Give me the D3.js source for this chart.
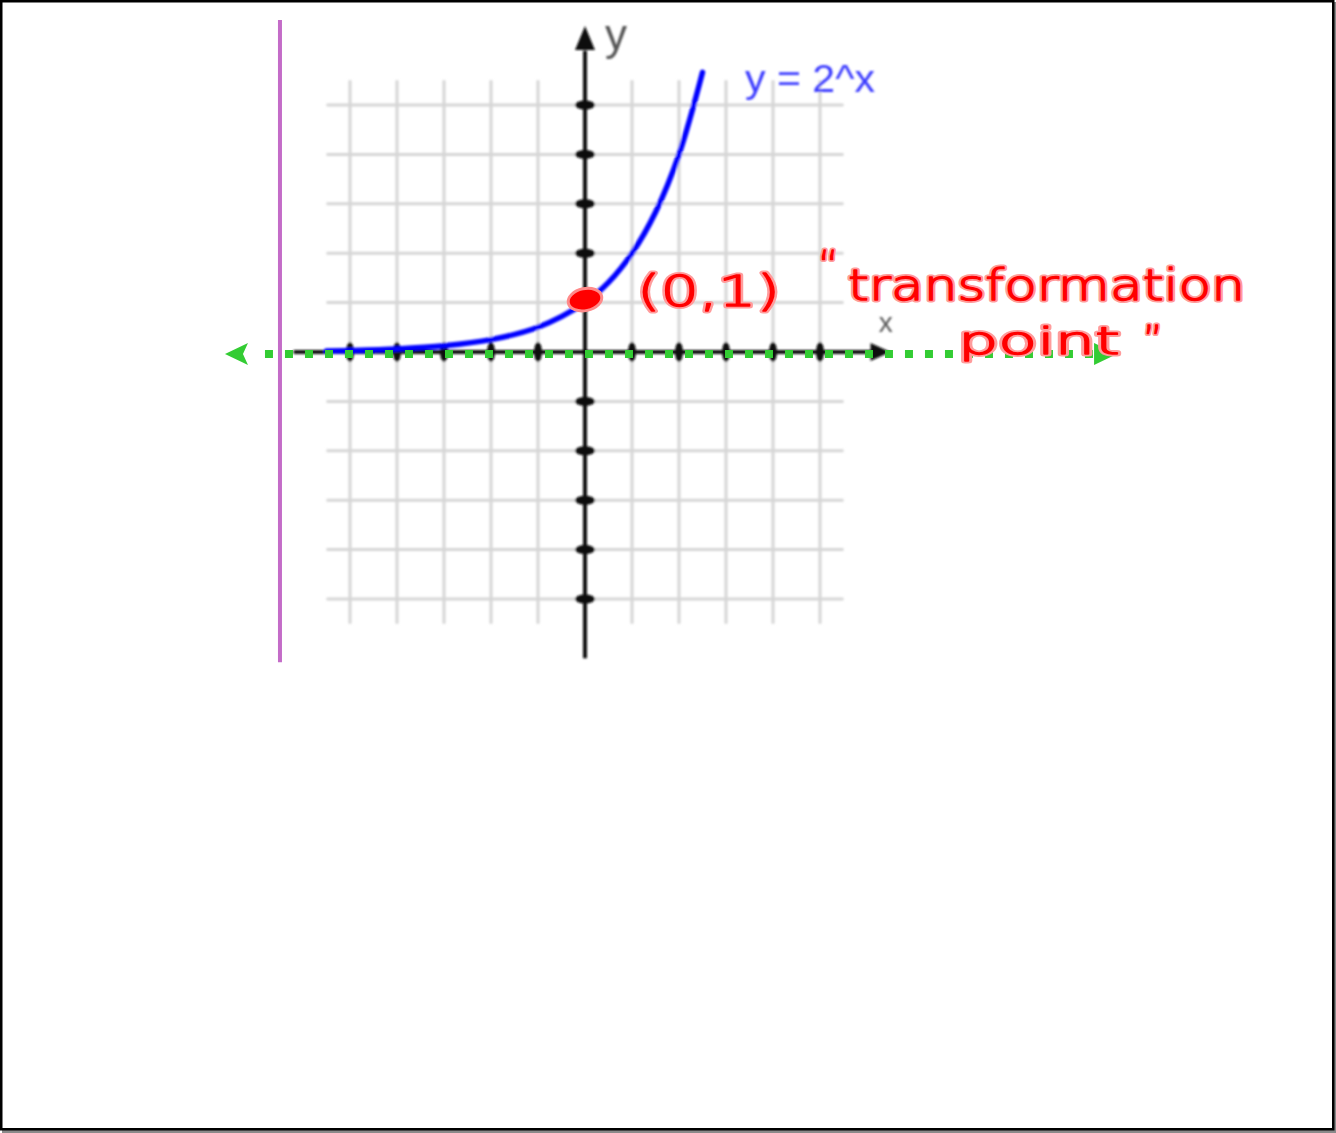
<!DOCTYPE html>
<html>
<head>
<meta charset="utf-8">
<script src="https://cdn.jsdelivr.net/npm/d3@7"></script>
<style>
  html, body { margin: 0; padding: 0; background: #fff; }
  svg { display: block; }
</style>
</head>
<body>
<svg id="chart" width="1336" height="1133"></svg>
<script>
// Grid / axis values
const gridValues = [-5, -4, -3, -2, -1, 0, 1, 2, 3, 4, 5];
const tickValues = [-5, -4, -3, -2, -1, 1, 2, 3, 4, 5];

// Sample points of y = 2^x
const curveX = [-5.5, -5, -4, -3, -2, -1, 0, 0.5, 1, 1.5, 2, 2.5];
const curveY = [0.022, 0.031, 0.0625, 0.125, 0.25, 0.5, 1, 1.41, 2, 2.83, 4, 5.66];

// Annotations
const keyPoint = [0, 1];
const curveLabel = "y = 2^x";
const pointLabel = "(0,1)";
const noteLines = ["transformation", "point"];
const asymptoteY = 0;
const asymptoteExtent = [-7.66, 11.32];
const markerX = -6.49;
const markerExtent = [-6.28, 6.72];

const W = 1336, H = 1133;
const svg = d3.select("#chart");

const x = d3.scaleLinear().domain([-5, 5]).range([350, 820]);
const y = d3.scaleLinear().domain([-5, 5]).range([599, 105]);

// soft focus for the underlying graph
const defs = svg.append("defs");
defs.append("filter").attr("id", "soft")
  .attr("x", "-10%").attr("y", "-10%").attr("width", "120%").attr("height", "120%")
  .append("feGaussianBlur").attr("stdDeviation", 1.2);

// frame
svg.append("rect").attr("x", 2).attr("y", H - 3).attr("width", W - 2).attr("height", 3).attr("fill", "#8a8a8a");
svg.append("rect").attr("x", W - 3).attr("y", 2).attr("width", 3).attr("height", H - 2).attr("fill", "#8a8a8a");
svg.append("rect").attr("x", 1.25).attr("y", 1.25).attr("width", W - 4).attr("height", H - 5)
  .attr("fill", "#fff").attr("stroke", "#000").attr("stroke-width", 2.5);

const graph = svg.append("g").attr("filter", "url(#soft)");

const gx0 = x(-5.5), gx1 = x(5.5), gy0 = y(5.5), gy1 = y(-5.5);

// grid
graph.append("g").selectAll("line").data(gridValues).join("line")
  .attr("x1", d => x(d)).attr("x2", d => x(d))
  .attr("y1", gy0).attr("y2", gy1)
  .attr("stroke", "#d6d6d6").attr("stroke-width", 3);
graph.append("g").selectAll("line").data(gridValues).join("line")
  .attr("y1", d => y(d)).attr("y2", d => y(d))
  .attr("x1", gx0).attr("x2", gx1)
  .attr("stroke", "#d6d6d6").attr("stroke-width", 3);

// axes
const axisColor = "#111";
graph.append("line")
  .attr("x1", x(-6.2)).attr("x2", x(6.3))
  .attr("y1", y(0)).attr("y2", y(0))
  .attr("stroke", axisColor).attr("stroke-width", 4);
graph.append("line")
  .attr("x1", x(0)).attr("x2", x(0))
  .attr("y1", y(-6.2)).attr("y2", y(6.1))
  .attr("stroke", axisColor).attr("stroke-width", 4);

// arrowheads
const xTip = x(6.5), yTip = y(6.6);
graph.append("path")
  .attr("d", `M${xTip},${y(0)} L${xTip - 20},${y(0) - 9} L${xTip - 20},${y(0) + 9} Z`)
  .attr("fill", axisColor);
graph.append("path")
  .attr("d", `M${x(0)},${yTip} L${x(0) - 10},${yTip + 24} L${x(0) + 10},${yTip + 24} Z`)
  .attr("fill", axisColor);

// tick bumps
graph.append("g").selectAll("ellipse").data(tickValues).join("ellipse")
  .attr("cx", d => x(d)).attr("cy", y(0))
  .attr("rx", 4).attr("ry", 10).attr("fill", axisColor);
graph.append("g").selectAll("ellipse").data(tickValues).join("ellipse")
  .attr("cx", x(0)).attr("cy", d => y(d))
  .attr("rx", 10).attr("ry", 4.5).attr("fill", axisColor);

// axis letters
graph.append("text").attr("x", x(0) + 20).attr("y", 50)
  .attr("font-family", "Liberation Sans, Arial, sans-serif").attr("font-size", 44)
  .attr("fill", "#555").text("y");
graph.append("text").attr("x", x(6.4)).attr("y", y(0) - 20)
  .attr("text-anchor", "middle")
  .attr("font-family", "Liberation Sans, Arial, sans-serif").attr("font-size", 28)
  .attr("fill", "#555").text("x");

// curve
const pts = curveX.map((v, i) => [v, curveY[i]]);
graph.append("path")
  .datum(pts)
  .attr("d", d3.line().x(d => x(d[0])).y(d => y(d[1])).curve(d3.curveCatmullRom.alpha(0.5)))
  .attr("fill", "none").attr("stroke", "#0000ff").attr("stroke-width", 5.5)
  .attr("stroke-linecap", "round");

graph.append("text").attr("x", 745).attr("y", 92)
  .attr("font-family", "Liberation Sans, Arial, sans-serif").attr("font-size", 38)
  .attr("textLength", 130).attr("lengthAdjust", "spacingAndGlyphs")
  .attr("fill", "#3a3aff").text(curveLabel);

// ---- pen annotations ----
const ann = svg.append("g");

// vertical marker line
ann.append("line")
  .attr("x1", x(markerX)).attr("x2", x(markerX))
  .attr("y1", y(markerExtent[1])).attr("y2", y(markerExtent[0]))
  .attr("stroke", "#c46cc8").attr("stroke-width", 4);

// dotted asymptote with arrows
const green = "#33cc33";
const ay = y(asymptoteY) + 2;
const ax0 = x(asymptoteExtent[0]), ax1 = x(asymptoteExtent[1]);
ann.append("line")
  .attr("x1", ax0 + 40).attr("x2", ax1 - 22)
  .attr("y1", ay).attr("y2", ay)
  .attr("stroke", green).attr("stroke-width", 8)
  .attr("stroke-dasharray", "8 12");
ann.append("path")
  .attr("d", `M${ax0},${ay} L${ax0 + 23},${ay - 11} L${ax0 + 18},${ay} L${ax0 + 23},${ay + 11} Z`)
  .attr("fill", green);
ann.append("path")
  .attr("d", `M${ax1},${ay} L${ax1 - 23},${ay - 11} L${ax1 - 23},${ay + 11} Z`)
  .attr("fill", green);

// highlighted point
ann.append("ellipse")
  .attr("cx", x(keyPoint[0])).attr("cy", y(keyPoint[1]) - 3)
  .attr("rx", 17).attr("ry", 11)
  .attr("transform", `rotate(-12 ${x(keyPoint[0])} ${y(keyPoint[1]) - 3})`)
  .attr("fill", "#ff0000").attr("stroke", "#ff8a8a").attr("stroke-width", 3);

// handwritten-style notes: pink halo under a thin red line
const notes = [
  { t: pointLabel, x: 637, y: 306, s: 42, len: 143 },
  { t: "\u201C", x: 818, y: 280, s: 40, len: null },
  { t: noteLines[0], x: 848, y: 300, s: 42, len: 397 },
  { t: noteLines[1], x: 958, y: 354, s: 38, len: 162 },
  { t: "\u201D", x: 1143, y: 352, s: 38, len: null }
];
const penText = (g, halo) => g.selectAll("text").data(notes).join("text")
  .attr("x", d => d.x).attr("y", d => d.y).attr("font-size", d => d.s)
  .attr("textLength", d => d.len).attr("lengthAdjust", "spacingAndGlyphs")
  .attr("font-family", "DejaVu Sans, sans-serif").attr("font-weight", 200)
  .attr("fill", halo ? "#ff9c9c" : "#ff0000")
  .attr("stroke", halo ? "#ff9c9c" : "#ff0000")
  .attr("stroke-width", halo ? 5 : 1.4)
  .attr("stroke-linejoin", "round")
  .text(d => d.t);
penText(ann.append("g"), true);
penText(ann.append("g"), false);
</script>
</body>
</html>
